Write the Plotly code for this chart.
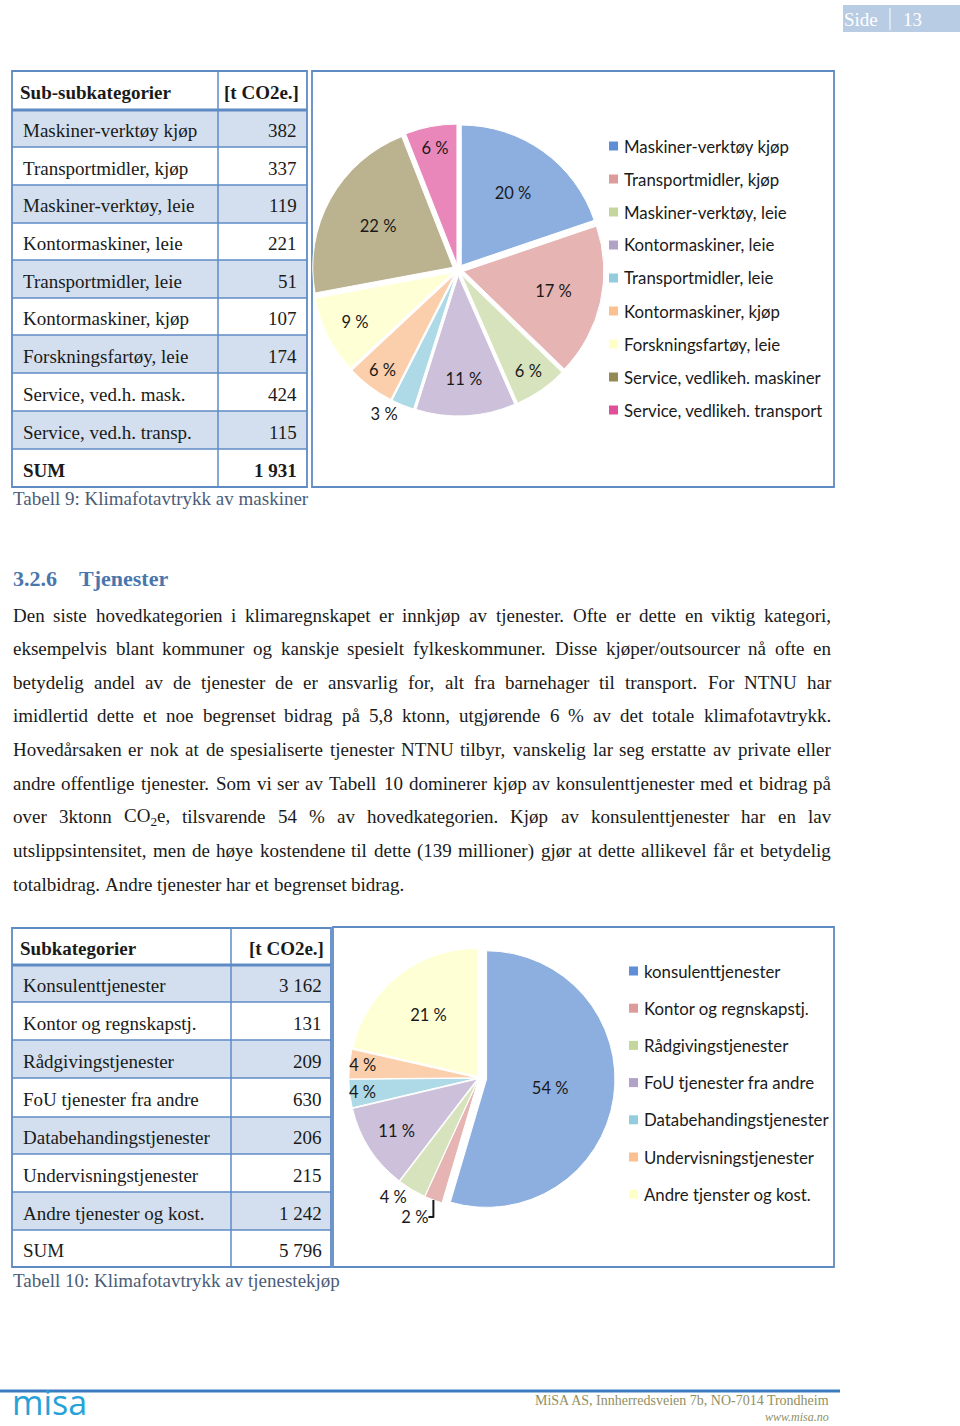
import plotly.graph_objects as go

W, H = 960, 1426

# ------------------------------------------------------------------ data
t1_header = ["Sub-subkategorier", "[t CO2e.]"]
t1_categories = ["Maskiner-verktøy kjøp", "Transportmidler, kjøp", "Maskiner-verktøy, leie",
                 "Kontormaskiner, leie", "Transportmidler, leie", "Kontormaskiner, kjøp",
                 "Forskningsfartøy, leie", "Service, ved.h. mask.", "Service, ved.h. transp."]
t1_values = [382, 337, 119, 221, 51, 107, 174, 424, 115]
t1_sum = 1931
t1_caption = "Tabell 9: Klimafotavtrykk av maskiner"

pie1_legend = ["Maskiner-verktøy kjøp", "Transportmidler, kjøp", "Maskiner-verktøy, leie",
               "Kontormaskiner, leie", "Transportmidler, leie", "Kontormaskiner, kjøp",
               "Forskningsfartøy, leie", "Service, vedlikeh. maskiner", "Service, vedlikeh. transport"]
pie1_pct = ["20 %", "17 %", "6 %", "11 %", "3 %", "6 %", "9 %", "22 %", "6 %"]
pie1_colors = ["#8DAFE0", "#E6B4B3", "#D6E3BC", "#CCC0DB", "#AED9E6",
               "#FBCFAC", "#FFFFD6", "#BBB390", "#EA87BA"]
legend_marker_colors = ["#5F8ED6", "#DC9C9B", "#C3D69B", "#B3A2C7", "#93CDDD",
                        "#FAC090", "#FFFFC8", "#948A54", "#E0509A"]

t2_header = ["Subkategorier", "[t CO2e.]"]
t2_categories = ["Konsulenttjenester", "Kontor og regnskapstj.", "Rådgivingstjenester",
                 "FoU tjenester fra andre", "Databehandingstjenester", "Undervisningstjenester",
                 "Andre tjenester og kost."]
t2_values = [3162, 131, 209, 630, 206, 215, 1242]
t2_sum = 5796
t2_caption = "Tabell 10: Klimafotavtrykk av tjenestekjøp"

pie2_legend = ["konsulenttjenester", "Kontor og regnskapstj.", "Rådgivingstjenester",
               "FoU tjenester fra andre", "Databehandingstjenester", "Undervisningstjenester",
               "Andre tjenster og kost."]
pie2_pct = ["54 %", "2 %", "4 %", "11 %", "4 %", "4 %", "21 %"]
pie2_colors = pie1_colors[:7]

heading_num = "3.2.6"
heading_txt = "Tjenester"
body_lines = [
    "Den siste hovedkategorien i klimaregnskapet er innkjøp av tjenester. Ofte er dette en viktig kategori,",
    "eksempelvis blant kommuner og kanskje spesielt fylkeskommuner. Disse kjøper/outsourcer nå ofte en",
    "betydelig andel av de tjenester de er ansvarlig for, alt fra barnehager til transport. For NTNU har",
    "imidlertid dette et noe begrenset bidrag på 5,8 ktonn, utgjørende 6 % av det totale klimafotavtrykk.",
    "Hovedårsaken er nok at de spesialiserte tjenester NTNU tilbyr, vanskelig lar seg erstatte av private eller",
    "andre offentlige tjenester. Som vi ser av Tabell 10 dominerer kjøp av konsulenttjenester med et bidrag på",
    "over 3ktonn CO2e, tilsvarende 54 % av hovedkategorien. Kjøp av konsulenttjenester har en lav",
    "utslippsintensitet, men de høye kostendene til dette (139 millioner) gjør at dette allikevel får et betydelig",
    "totalbidrag. Andre tjenester har et begrenset bidrag.",
]

# ------------------------------------------------------------------ helpers
SERIF = "Liberation Serif"
SANS = "Lato"
BORDER = "#5F8BC4"
SHADE = "#D3DFEE"
TXT = "#1a1a1a"

shapes, ann = [], []


def X(x):
    return x / W


def Y(y):
    return 1 - y / H


def rect(x0, y0, x1, y1, fill="rgba(0,0,0,0)", color="rgba(0,0,0,0)", lw=0):
    shapes.append(dict(type="rect", xref="paper", yref="paper", x0=X(x0), x1=X(x1),
                       y0=Y(y1), y1=Y(y0), fillcolor=fill, line=dict(color=color, width=lw),
                       layer="below"))


def seg(x0, y0, x1, y1, color=BORDER, lw=1.5):
    shapes.append(dict(type="line", xref="paper", yref="paper", x0=X(x0), x1=X(x1),
                       y0=Y(y0), y1=Y(y1), line=dict(color=color, width=lw), layer="below"))


def text(x, y, s, size=19, color=TXT, family=SERIF, anchor="left", yanchor="middle"):
    ann.append(dict(xref="paper", yref="paper", x=X(x), y=Y(y), text=s, showarrow=False,
                    xanchor=anchor, yanchor=yanchor, borderpad=0,
                    font=dict(size=size, color=color, family=family)))


TW = dict(a=444, b=500, c=444, d=500, e=444, f=333, g=500, h=500, i=278, j=278, k=500, l=278,
          m=778, n=500, o=500, p=500, q=500, r=333, s=389, t=278, u=500, v=500, w=722, x=500,
          y=500, z=444, A=722, B=667, C=667, D=722, E=611, F=556, G=722, H=722, I=333, J=389,
          K=722, L=611, M=889, N=722, O=722, P=556, Q=722, R=667, S=556, T=611, U=722, V=722,
          W=944, X=722, Y=722, Z=611)
TW.update({"ø": 500, "å": 444, "æ": 667, ".": 250, ",": 250, ":": 278, ";": 278, "%": 833,
           "(": 333, ")": 333, "/": 278, "-": 333, " ": 250})
for d in "0123456789":
    TW[d] = 500


def tw(s, size):
    w = sum(TW.get(c, 500) for c in s)
    if s.startswith("CO2e"):
        w -= 170
    return w * size / 1000.0


def fmt(v):
    return f"{v:,}".replace(",", " ")


# ------------------------------------------------------------------ header tab
rect(843, 5, 960, 32, fill="#B8CCE4")
seg(890, 8, 890, 30, color="white", lw=1)
text(843, 19, "Side", size=19, color="white")
text(902, 19, "13", size=19, color="white")


# ------------------------------------------------------------------ tables
def draw_table(x0, xm, x1, bounds, header, cats, vals, total, bold_sum, shade_idx,
               label_x, val_x):
    nrows = len(bounds) - 1
    for i in shade_idx:
        rect(x0, bounds[i], x1, bounds[i + 1], fill=SHADE)
    rect(x0, bounds[0], x1, bounds[-1], color=BORDER, lw=1.8)
    for i, yb in enumerate(bounds[1:-1], start=1):
        seg(x0, yb, x1, yb, lw=3 if i == 1 else 1.5)
    seg(xm, bounds[0], xm, bounds[-1])
    cy = lambda i: (bounds[i] + bounds[i + 1]) / 2 + 2
    text(x0 + 7, cy(0), "<b>" + header[0] + "</b>")
    text(val_x + 2, cy(0), "<b>" + header[1] + "</b>", anchor="right")
    for k, (c, v) in enumerate(zip(cats, vals)):
        text(label_x, cy(k + 1), c)
        text(val_x, cy(k + 1), fmt(v), anchor="right")
    s_lab, s_val = "SUM", fmt(total)
    if bold_sum:
        s_lab, s_val = "<b>SUM</b>", "<b>" + s_val + "</b>"
    text(label_x, cy(nrows - 1), s_lab)
    text(val_x, cy(nrows - 1), s_val, anchor="right")


t1_bounds = [71, 110, 147, 185, 223, 260, 298, 335, 373, 411, 449, 487]
draw_table(12, 218, 307, t1_bounds, t1_header, t1_categories, t1_values, t1_sum, True,
           [1, 3, 5, 7, 9], 22, 298)
text(12, 498, t1_caption, color="#4A5C78")

t2_bounds = [928, 965, 1002, 1040, 1078, 1117, 1154, 1192, 1230, 1267]
draw_table(12, 231, 331, t2_bounds, t2_header, t2_categories, t2_values, t2_sum, False,
           [1, 3, 5, 7], 22, 323)
text(12, 1280, t2_caption, color="#4A5C78")

# ------------------------------------------------------------------ chart boxes
rect(312, 71, 834, 487, color=BORDER, lw=1.8)
rect(333, 927, 834, 1267, color=BORDER, lw=1.8)

# legends
for i, (lab, col) in enumerate(zip(pie1_legend, legend_marker_colors)):
    yy = 146 + 33 * i
    rect(609, yy - 4.5, 618, yy + 4.5, fill=col)
    text(623, yy, lab, size=16.8, family=SANS)
for i, (lab, col) in enumerate(zip(pie2_legend, legend_marker_colors[:7])):
    yy = 971 + 37.2 * i
    rect(629, yy - 4.5, 638, yy + 4.5, fill=col)
    text(643, yy, lab, size=16.8, family=SANS)

# ------------------------------------------------------------------ body text
text(12, 578, "<b>" + heading_num + "</b>", size=22, color="#4A76AE")
text(78, 578, "<b>" + heading_txt + "</b>", size=22, color="#4A76AE")

BX0, BX1, BS = 12, 830, 19
for li, line in enumerate(body_lines):
    yy = 615 + 33.65 * li
    words = line.split(" ")
    widths = [tw(w_, BS) for w_ in words]
    last = li == len(body_lines) - 1
    if last or len(words) == 1:
        gap = tw(" ", BS)
    else:
        gap = (BX1 - BX0 - sum(widths)) / (len(words) - 1)
    xx = BX0
    for w_, wd in zip(words, widths):
        disp = w_.replace("CO2e", "CO<sub>2</sub>e")
        text(xx, yy, disp, size=BS)
        xx += wd + gap

# ------------------------------------------------------------------ footer
seg(0, 1391, 840, 1391, color="#3A7DBF", lw=3)
text(11, 1426, "misa", size=34, color="#27A2D9", family="Open Sans", yanchor="bottom")
text(830, 1400, "MiSA AS, Innherredsveien 7b, NO-7014 Trondheim", size=14, color="#8F8F62",
     anchor="right")
text(830, 1417, "<i>www.misa.no</i>", size=12, color="#8F8F62", anchor="right")

# ------------------------------------------------------------------ pies
fig = go.Figure()

c1x, c1y, h1 = 458, 270, 146
fig.add_trace(go.Pie(
    labels=pie1_legend, values=t1_values, text=pie1_pct, textinfo="text",
    sort=False, direction="clockwise", rotation=0,
    pull=[0.04] * len(t1_values),
    marker=dict(colors=pie1_colors, line=dict(color="white", width=1)),
    textposition=["inside", "inside", "inside", "inside", "outside", "inside", "inside",
                  "inside", "inside"],
    insidetextorientation="horizontal",
    textfont=dict(family=SANS, size=16.5, color=TXT),
    domain=dict(x=[X(c1x - h1), X(c1x + h1)], y=[Y(c1y + h1), Y(c1y - h1)]),
    hoverinfo="label+value", showlegend=False,
))

c2x, c2y, h2 = 479, 1078, 136
fig.add_trace(go.Pie(
    labels=pie2_legend, values=t2_values, text=pie2_pct, textinfo="text",
    sort=False, direction="clockwise", rotation=0,
    pull=[0.06, 0.015, 0.015, 0.015, 0.015, 0.015, 0.015],
    marker=dict(colors=pie2_colors, line=dict(color="white", width=1)),
    textposition=["inside", "outside", "outside", "inside", "inside", "inside", "inside"],
    insidetextorientation="horizontal",
    textfont=dict(family=SANS, size=16.5, color=TXT),
    domain=dict(x=[X(c2x - h2), X(c2x + h2)], y=[Y(c2y + h2), Y(c2y - h2)]),
    hoverinfo="label+value", showlegend=False,
))

fig.update_layout(
    width=W, height=H, margin=dict(l=0, r=0, t=0, b=0),
    paper_bgcolor="white", plot_bgcolor="white",
    shapes=shapes, annotations=ann, showlegend=False,
    uniformtext=dict(minsize=16.5, mode="show"),
)

fig.write_html("out.html")
